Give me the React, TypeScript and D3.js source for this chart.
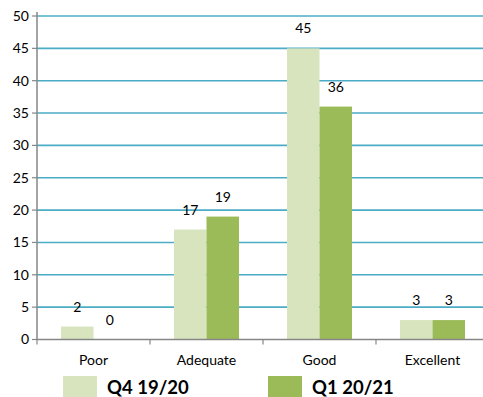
import React from "react";
import * as d3 from "d3";

const categories = ["Poor", "Adequate", "Good", "Excellent"];
const seriesNames = ["Q4 19/20", "Q1 20/21"];
const q4Values = [2, 17, 45, 3];
const q1Values = [0, 19, 36, 3];
const yTicks = [0, 5, 10, 15, 20, 25, 30, 35, 40, 45, 50];

const colors = ["#D7E4BD", "#9BBB59"];
const font = "Lato, 'Open Sans', sans-serif";

export default function App() {
  const width = 483;
  const height = 397;
  const left = 37;
  const right = 489;
  const top = 16;
  const bottom = 339.5;

  const x = d3.scaleBand<string>().domain(categories).range([left, right]).paddingInner(0).paddingOuter(0);
  const y = d3.scaleLinear().domain([0, 50]).range([bottom, top]);
  const barW = 32.5;

  const series = [q4Values, q1Values];

  return (
    <svg
      width={width}
      height={height}
      style={{ position: "absolute", left: 0, top: 0, background: "#fff" }}
      fontFamily={font}
    >
      {/* horizontal gridlines */}
      {yTicks.filter((t) => t > 0).map((t) => (
        <line key={t} x1={left} x2={width} y1={y(t)} y2={y(t)} stroke="#4BACC6" strokeWidth={1.6} />
      ))}
      {/* y-axis ticks and labels */}
      {yTicks.map((t) => (
        <g key={t}>
          <line x1={left - 5} x2={left} y1={y(t)} y2={y(t)} stroke="#868686" strokeWidth={1.2} />
          <text x={left - 8} y={y(t)} dy="0.35em" textAnchor="end" fontSize={14} fill="#000">
            {t}
          </text>
        </g>
      ))}
      {/* bars */}
      {categories.map((c, i) => {
        const cx = (x(c) as number) + x.bandwidth() / 2;
        return (
          <g key={c}>
            {series.map((vals, s) => {
              const bx = cx - barW + s * barW;
              return (
                <g key={s}>
                  <rect x={bx} y={y(vals[i])} width={barW} height={bottom - y(vals[i])} fill={colors[s]} />
                  <text x={bx + barW / 2} y={y(vals[i]) - 15} textAnchor="middle" fontSize={14} fill="#000">
                    {vals[i]}
                  </text>
                </g>
              );
            })}
          </g>
        );
      })}
      {/* axes */}
      <line x1={left} x2={left} y1={top - 4} y2={bottom} stroke="#868686" strokeWidth={1.5} />
      <line x1={left} x2={width} y1={bottom} y2={bottom} stroke="#868686" strokeWidth={1.5} />
      {categories.map((c) => (
        <line key={c} x1={x(c) as number} x2={x(c) as number} y1={bottom} y2={bottom + 5} stroke="#868686" strokeWidth={1.2} />
      ))}
      {categories.map((c) => (
        <text key={c} x={(x(c) as number) + x.bandwidth() / 2} y={360} dy="0.35em" textAnchor="middle" fontSize={14} fill="#000">
          {c}
        </text>
      ))}
      {/* legend */}
      {seriesNames.map((n, s) => {
        const lx = [63, 268][s];
        return (
          <g key={n}>
            <rect x={lx} y={376} width={34} height={24} fill={colors[s]} />
            <text x={lx + 44} y={394} fontSize={18.5} fontWeight="bold" fill="#000">
              {n}
            </text>
          </g>
        );
      })}
    </svg>
  );
}
